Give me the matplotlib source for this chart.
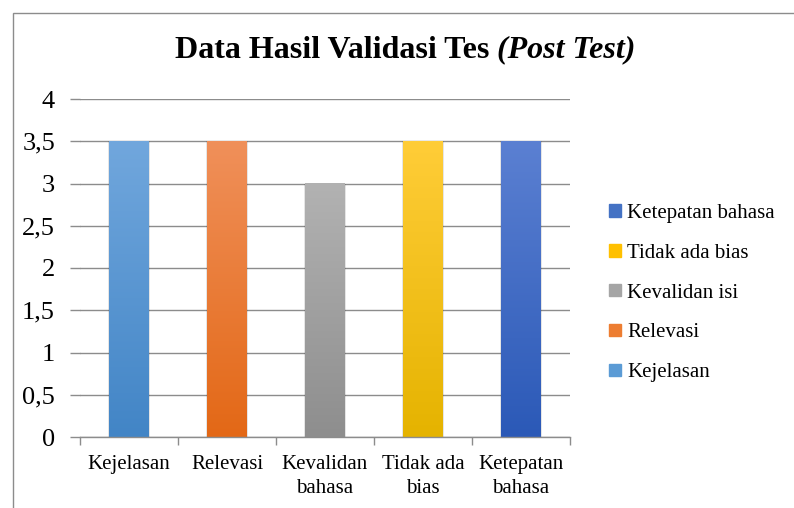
import numpy as np
import matplotlib
matplotlib.use("Agg")
import matplotlib.pyplot as plt
from matplotlib.patches import Rectangle
from matplotlib.colors import LinearSegmentedColormap

# data
kategori = ["Kejelasan", "Relevasi", "Kevalidan\nbahasa", "Tidak ada\nbias", "Ketepatan\nbahasa"]
nama_seri = ["Kejelasan", "Relevasi", "Kevalidan isi", "Tidak ada bias", "Ketepatan bahasa"]
nilai = [3.5, 3.5, 3.0, 3.5, 3.5]
warna_atas = ["#71a7dd", "#f0905a", "#b2b2b2", "#ffcd38", "#5b80d2"]
warna_bawah = ["#4285c6", "#e36816", "#8e8e8e", "#e5b300", "#2b59b7"]
warna_legend = ["#5b9bd5", "#ed7d31", "#a5a5a5", "#ffc000", "#4472c4"]
yticks = [0, 0.5, 1, 1.5, 2, 2.5, 3, 3.5, 4]

plt.rcParams["font.family"] = ["Liberation Serif", "DejaVu Serif"]

fig = plt.figure(figsize=(7.94, 5.08), dpi=100)
ax = fig.add_axes([80 / 794, 1 - 437 / 508, 490 / 794, 338 / 508])

lebar = 0.4
x = np.arange(len(nilai))
grad = np.linspace(0, 1, 256).reshape(-1, 1)

for i in range(len(nilai)):
    # bayangan tipis
    for k, a in zip([0.09, 0.06, 0.03], [0.10, 0.07, 0.05]):
        ax.add_patch(Rectangle((x[i] - lebar / 2 - k * 0.12, -0.02), lebar + k * 0.24, nilai[i] + 0.02,
                               color="black", alpha=a, lw=0, zorder=2))
    ax.bar(x[i], nilai[i], width=lebar, color=warna_legend[i], label=nama_seri[i], zorder=3)
    cmap = LinearSegmentedColormap.from_list("g%d" % i, [warna_bawah[i], warna_atas[i]])
    ax.imshow(grad, cmap=cmap, origin="lower", aspect="auto", zorder=4,
              extent=[x[i] - lebar / 2, x[i] + lebar / 2, 0, nilai[i]])

ax.set_xlim(-0.5, len(nilai) - 0.5)
ax.set_ylim(0, 4)

# sumbu
for s in ["top", "right", "left"]:
    ax.spines[s].set_visible(False)
ax.spines["bottom"].set_color("#8c8c8c")
ax.spines["bottom"].set_linewidth(1.0)
ax.spines["bottom"].set_zorder(5)

ax.set_yticks(yticks)
ax.set_yticklabels([("%g" % v).replace(".", ",") for v in yticks], fontsize=19)
ax.tick_params(axis="y", length=7, color="#8c8c8c", width=1.0, pad=11)
ax.grid(axis="y", color="#8c8c8c", linewidth=1.0, zorder=0)
ax.set_axisbelow(True)

ax.set_xticks(np.arange(len(nilai) + 1) - 0.5)
ax.set_xticklabels([])
ax.tick_params(axis="x", which="major", length=6, color="#8c8c8c", width=1.0)
ax.set_xticks(x, minor=True)
ax.set_xticklabels(kategori, minor=True, fontsize=15, linespacing=1.38)
ax.tick_params(axis="x", which="minor", length=0, pad=13)

fig.text(497 / 794, 1 - 50 / 508, "Data Hasil Validasi Tes ", fontsize=23, fontweight="bold",
         ha="right", va="center")
fig.text(497 / 794, 1 - 50 / 508, "(Post Test)", fontsize=23, fontweight="bold",
         style="italic", ha="left", va="center")

handles = [Rectangle((0, 0), 1, 1, color=c) for c in warna_legend][::-1]
fig.legend(handles, nama_seri[::-1], loc="center left", bbox_to_anchor=(601 / 794, 1 - 293 / 508),
           frameon=False, fontsize=15, handlelength=0.55, handleheight=0.55,
           handletextpad=0.3, labelspacing=1.0, borderaxespad=0)

# bingkai luar
fig.add_artist(Rectangle((13 / 794, -0.1), 1.0, 1.1 - 13 / 508, transform=fig.transFigure,
                         fill=False, edgecolor="#8c8c8c", lw=1.0))

fig.savefig("out.png", dpi=100)
